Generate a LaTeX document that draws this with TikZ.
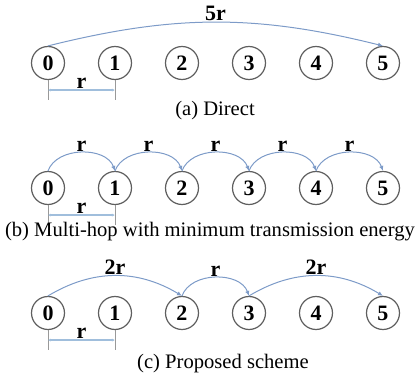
\documentclass[tikz,border=0pt]{standalone}
\usepackage{fontspec}
\setmainfont{Liberation Serif}
\newfontfamily\zeitfont{Liberation Serif}
\usetikzlibrary{arrows.meta}
\definecolor{bogen}{RGB}{125,155,200}
\definecolor{mass}{RGB}{160,190,220}
\definecolor{rand}{RGB}{95,95,95}
\tikzset{
	knoten/.style={circle, draw=rand, line width=0.6pt, minimum size=16.5pt, inner sep=0pt,
		font=\zeitfont\fontsize{11}{11}\selectfont\bfseries},
	hop/.style={-{Latex[length=2.5pt,width=2.2pt]}, bogen, line width=0.5pt},
	weite/.style={font=\zeitfont\fontsize{11}{11}\selectfont\bfseries, inner sep=0.3pt, above},
	titel/.style={font=\zeitfont\fontsize{10.3}{12}\selectfont}
}
\begin{document}
\begin{tikzpicture}[x=0.5pt, y=0.5pt]
		\useasboundingbox (0,0) rectangle (419,381);
		% Knoten
		\foreach \i in {0,...,5} {
			\node[knoten] (a\i) at ({48+67*\i},318) {\i};
			\node[knoten] (b\i) at ({48+67*\i},193) {\i};
			\node[knoten] (c\i) at ({48+67*\i},68) {\i};
		}
		% Abstand r
		\foreach \z in {a,b,c} {
			\draw[gray!80] (\z0.south) -- ([yshift=-10pt]\z0.south);
			\draw[gray!80] (\z1.south) -- ([yshift=-10pt]\z1.south);
			\draw[{Latex[length=1.5pt,width=1.5pt]}-{Latex[length=1.5pt,width=1.5pt]}, mass, line width=0.7pt]
				([yshift=-5pt]\z0.south) -- ([yshift=-5pt]\z1.south)
				node[weite, midway, text=black] {r};
		}
		% (a) direkt
		\draw[hop] (a0.north) to[bend left=14] node[weite, midway, text=black] {5r} (a5.north);
		% (b) Multi-hop
		\foreach \i/\j in {0/1,1/2,2/3,3/4,4/5}
			\draw[hop] (b\i.north) to[out=70, in=110] node[weite, midway, text=black] {r} (b\j.north);
		% (c) Vorschlag
		\draw[hop] (c0.north) to[bend left=31] node[weite, midway, text=black] {2r} (c2.north);
		\draw[hop] (c2.north) to[out=70, in=110] node[weite, midway, text=black] {r} (c3.north);
		\draw[hop] (c3.north) to[bend left=31] node[weite, midway, text=black] {2r} (c5.north);
		% Beschriftung
		\node[titel] (ta) at (215,270) {(a) Direct};
		\node[titel] (tb) at (210,149) {(b) Multi-hop with minimum transmission energy};
		\node[titel] (tc) at (223,17) {(c) Proposed scheme};
	\end{tikzpicture}
\end{document}
